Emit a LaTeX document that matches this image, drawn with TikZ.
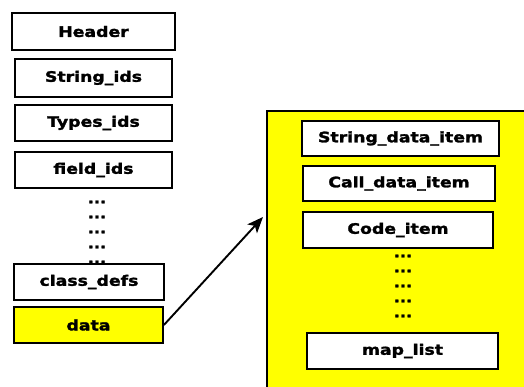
\documentclass[tikz,border=0pt]{standalone}
\usepackage{fontspec}
\setmainfont{DejaVu Sans}[BoldFont={DejaVu Sans Bold},BoldFeatures={FakeStretch=1.2,FakeBold=1.8}]
\usetikzlibrary{arrows.meta}
\definecolor{dexyellow}{RGB}{255,255,0}
\tikzset{
  sect/.style={draw=black, line width=1.8pt, fill=white, inner sep=0pt,
    font=\fontsize{14.4}{16}\selectfont\bfseries},
  dots/.style={inner sep=0pt, font=\fontsize{13.5}{14}\selectfont\bfseries},
  link/.style={line width=1.9pt, -{Stealth[length=16pt,width=13pt,inset=4pt]}}
}
\begin{document}
\begin{tikzpicture}[x=1pt,y=-1pt]
\useasboundingbox (0,0) rectangle (524,386);
\clip (0,0) rectangle (524,386);
% expanded data section
\path[fill=dexyellow, draw=black, line width=2pt] (267,111) rectangle (540,400);
\node[sect, minimum width=197pt, minimum height=35pt] (sdi) at (400.5,138.5) {String\_data\_item};
\node[sect, minimum width=192pt, minimum height=35pt] (cdi) at (399,183.5) {Call\_data\_item};
\node[sect, minimum width=190pt, minimum height=36pt] (code) at (398,230) {Code\_item};
\foreach \y/\n in {256/1,271/2,286/3,301/4,316/5}
  \node[dots] (rd\n) at (403,\y) {...};
\node[sect, minimum width=191pt, minimum height=36pt] (map) at (402.5,351) {map\_list};
% file layout
\node[sect, line width=2.4pt, minimum width=163pt, minimum height=37pt] (hdr) at (93.5,31.5) {Header};
\node[sect, minimum width=157pt, minimum height=38pt] (sid) at (93.5,78) {String\_ids};
\node[sect, minimum width=157pt, minimum height=36pt] (tid) at (93.5,123) {Types\_ids};
\node[sect, minimum width=157pt, minimum height=36pt] (fid) at (93.5,170) {field\_ids};
\foreach \y/\n in {202/1,217/2,232/3,247/4,262/5}
  \node[dots] (ld\n) at (97,\y) {...};
\node[sect, minimum width=150pt, minimum height=36pt] (cls) at (89,282) {class\_defs};
\node[sect, fill=dexyellow, minimum width=149pt, minimum height=36pt] (data) at (88.5,325) {data};
\coordinate (tip) at (263,217);
\draw[link] (data.east) -- (tip);
\end{tikzpicture}
\end{document}
